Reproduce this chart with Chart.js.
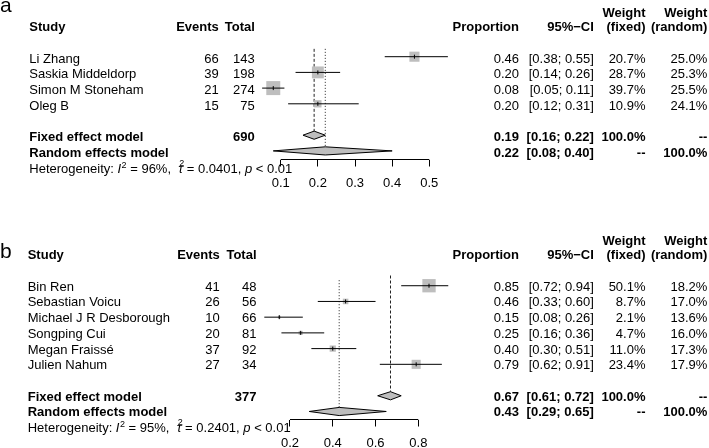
<!DOCTYPE html>
<html><head><meta charset="utf-8">
<script src="https://cdn.jsdelivr.net/npm/chart.js@4.4.1/dist/chart.umd.min.js"></script>
<style>
html,body{margin:0;padding:0;background:#fff;width:709px;height:448px;overflow:hidden}
canvas{position:absolute;left:0}
#ca{top:0}
#cb{top:224px}
</style></head><body>
<canvas id="ca" width="709" height="224"></canvas>
<canvas id="cb" width="709" height="224"></canvas>
<script>
// ---------- Panel a data ----------
const studiesA = ['Li Zhang', 'Saskia Middeldorp', 'Simon M Stoneham', 'Oleg B'];
const eventsA = [66, 39, 21, 15];
const totalA = [143, 198, 274, 75];
const propA = [0.46, 0.20, 0.08, 0.20];
const lowerA = [0.38, 0.14, 0.05, 0.12];
const upperA = [0.55, 0.26, 0.11, 0.31];
const weightFixedA = [20.7, 28.7, 39.7, 10.9];
const weightRandomA = [25.0, 25.3, 25.5, 24.1];
const fixedModelA = [0.19, 0.16, 0.22];   // estimate, lower, upper
const randomModelA = [0.22, 0.08, 0.40];
const totalSumA = 690;
const hetA = ['96%', '0.0401', '0.01'];
const ticksA = [0.1, 0.2, 0.3, 0.4, 0.5];
const tickLabelsA = ['0.1', '0.2', '0.3', '0.4', '0.5'];

// ---------- Panel b data ----------
const studiesB = ['Bin Ren', 'Sebastian Voicu', 'Michael J R Desborough', 'Songping Cui', 'Megan Fraissé', 'Julien Nahum'];
const eventsB = [41, 26, 10, 20, 37, 27];
const totalB = [48, 56, 66, 81, 92, 34];
const propB = [0.85, 0.46, 0.15, 0.25, 0.40, 0.79];
const lowerB = [0.72, 0.33, 0.08, 0.16, 0.30, 0.62];
const upperB = [0.94, 0.60, 0.26, 0.36, 0.51, 0.91];
const weightFixedB = [50.1, 8.7, 2.1, 4.7, 11.0, 23.4];
const weightRandomB = [18.2, 17.0, 13.6, 16.0, 17.3, 17.9];
const fixedModelB = [0.67, 0.61, 0.72];
const randomModelB = [0.43, 0.29, 0.65];
const totalSumB = 377;
const hetB = ['95%', '0.2401', '0.01'];
const ticksB = [0.2, 0.4, 0.6, 0.8];
const tickLabelsB = ['0.2', '0.4', '0.6', '0.8'];

const FONT = '"Liberation Sans", Arial, Helvetica, sans-serif';
const f2 = v => v.toFixed(2);
const ci = (lo, hi) => '[' + f2(lo) + '; ' + f2(hi) + ']';
const pct = w => w.toFixed(1) + '%';

function drawTexts(chart, P) {
  const ctx = chart.ctx;
  const ys = chart.scales.y;
  const Y = r => ys.getPixelForValue(r) + P.textDy;
  const c = P.cx;
  ctx.save();
  ctx.fillStyle = '#000';
  ctx.textBaseline = 'alphabetic';
  function t(s, x, y, align, bold, size, italic) {
    ctx.font = (italic ? 'italic ' : '') + (bold ? 'bold ' : '') + (size || 13) + 'px ' + FONT;
    ctx.textAlign = align;
    ctx.fillText(s, x, y);
    return ctx.measureText(s).width;
  }
  t(P.letter, 0, P.letterY, 'left', false, 21);
  const hy = Y(-1);
  t('Study', c.study, hy, 'left', true);
  t('Events', c.events, hy, 'right', true);
  t('Total', c.total, hy, 'right', true);
  t('Proportion', c.prop, hy, 'right', true);
  t('95%\u2212CI', c.ci, hy, 'right', true);
  t('Weight', c.wf, hy - 14.5, 'right', true);
  t('(fixed)', c.wf, hy, 'right', true);
  t('Weight', c.wr, hy - 14.5, 'right', true);
  t('(random)', c.wr, hy, 'right', true);
  const n = P.studies.length;
  for (let i = 0; i < n; i++) {
    const y = Y(i + 1);
    t(P.studies[i], c.study, y, 'left');
    t(String(P.events[i]), c.events, y, 'right');
    t(String(P.total[i]), c.total, y, 'right');
    t(f2(P.prop[i]), c.prop, y, 'right');
    t(ci(P.lower[i], P.upper[i]), c.ci, y, 'right');
    t(pct(P.weightFixed[i]), c.wf, y, 'right');
    t(pct(P.weightRandom[i]), c.wr, y, 'right');
  }
  let y = Y(n + 2);
  t('Fixed effect model', c.study, y, 'left', true);
  t(String(P.totalSum), c.total, y, 'right', true);
  t(f2(P.fixed[0]), c.prop, y, 'right', true);
  t(ci(P.fixed[1], P.fixed[2]), c.ci, y, 'right', true);
  t('100.0%', c.wf, y, 'right', true);
  t('--', c.wr, y, 'right', true);
  y = Y(n + 3);
  t('Random effects model', c.study, y, 'left', true);
  t(f2(P.random[0]), c.prop, y, 'right', true);
  t(ci(P.random[1], P.random[2]), c.ci, y, 'right', true);
  t('--', c.wf, y, 'right', true);
  t('100.0%', c.wr, y, 'right', true);
  // heterogeneity line
  let x = c.study;
  const hy2 = P.hetY;
  x += t('Heterogeneity: ', x, hy2, 'left', false, 13);
  x += t('I', x, hy2, 'left', false, 13, true);
  x += t('2', x + 0.5, hy2 - 5.5, 'left', false, 9) + 0.5;
  x += t(' = ' + P.het[0] + ',  ', x, hy2, 'left', false, 13);
  const tw = t('\u03C4', x, hy2, 'left', false, 13, true);
  t('2', x + 1, hy2 - 7, 'left', false, 9);
  x += tw;
  x += t(' = ' + P.het[1] + ', ', x, hy2, 'left', false, 13);
  x += t('p', x, hy2, 'left', false, 13, true);
  t(' < ' + P.het[2], x, hy2, 'left', false, 13);
  ctx.restore();
}

function buildPanel(id, P) {
  const n = P.studies.length;
  const fixedRow = n + 2, randomRow = n + 3;
  const dh = 0.26;
  const ds = [];
  for (let i = 0; i < n; i++) {
    ds.push({ data: [{ x: P.lower[i], y: i + 1 }, { x: P.upper[i], y: i + 1 }],
      borderColor: '#000', borderWidth: 1, pointRadius: 0, clip: false, order: 1 });
  }
  const pts = P.prop.map((v, i) => ({ x: v, y: i + 1 }));
  ds.push({ data: pts, showLine: false, pointStyle: 'rect',
    pointRadius: ctx => P.sq * Math.sqrt(P.weightFixed[ctx.dataIndex]) / (2 * Math.SQRT1_2),
    pointBackgroundColor: '#bebebe', pointBorderWidth: 0, borderWidth: 0, clip: false, order: 2 });
  ds.push({ data: pts, showLine: false, pointStyle: 'line', pointRotation: 90, pointRadius: 2,
    pointBorderColor: '#000', pointBorderWidth: 1, clip: false, order: 0 });
  ds.push({ data: [{ x: P.fixed[0], y: P.refTop[0] }, { x: P.fixed[0], y: fixedRow - dh }],
    borderColor: '#222', borderWidth: 1, borderDash: [3, 2], pointRadius: 0, clip: false, order: 3 });
  ds.push({ data: [{ x: P.random[0], y: P.refTop[1] }, { x: P.random[0], y: randomRow - dh }],
    borderColor: '#222', borderWidth: 1, borderDash: [1, 2], pointRadius: 0, clip: false, order: 3 });
  const diamond = (m, row) => [{ x: m[1], y: row }, { x: m[0], y: row - dh }, { x: m[2], y: row }, { x: m[0], y: row + dh }, { x: m[1], y: row }];
  ds.push({ data: diamond(P.fixed, fixedRow), borderColor: '#000', borderWidth: 1,
    backgroundColor: '#bebebe', fill: 'shape', pointRadius: 0, clip: false, order: 0 });
  ds.push({ data: diamond(P.random, randomRow), borderColor: '#000', borderWidth: 1,
    backgroundColor: '#bebebe', fill: 'shape', pointRadius: 0, clip: false, order: 0 });
  // axis line spanning first to last tick
  ds.push({ data: [{ x: P.ticks[0], y: P.yMax }, { x: P.ticks[P.ticks.length - 1], y: P.yMax }],
    borderColor: '#000', borderWidth: 1, pointRadius: 0, clip: false, order: 0 });

  return new Chart(document.getElementById(id), {
    type: 'line',
    data: { datasets: ds },
    options: {
      responsive: false, maintainAspectRatio: false, devicePixelRatio: 1, animation: false, events: [],
      layout: { padding: { left: P.padL, right: P.padR, top: P.padT, bottom: 0 } },
      plugins: { legend: { display: false }, tooltip: { enabled: false } },
      scales: {
        x: {
          type: 'linear', min: P.xMin, max: P.xMax,
          afterBuildTicks: s => { s.ticks = P.ticks.map(v => ({ value: v })); },
          afterFit: s => { s.height = P.axisH; },
          grid: { display: true, drawOnChartArea: false, drawTicks: true, tickLength: 7, color: '#000', lineWidth: 1 },
          border: { display: false },
          ticks: { color: '#000', padding: 9, maxRotation: 0, autoSkip: false,
            font: { size: 13, family: FONT },
            callback: (v, i) => P.tickLabels[i] }
        },
        y: { type: 'linear', reverse: true, min: 0, max: P.yMax, display: false }
      }
    },
    plugins: [{ id: 'tbl' + id, afterDraw: chart => drawTexts(chart, P) }]
  });
}

buildPanel('ca', {
  letter: 'a', letterY: 12,
  studies: studiesA, events: eventsA, total: totalA, prop: propA, lower: lowerA, upper: upperA,
  weightFixed: weightFixedA, weightRandom: weightRandomA, fixed: fixedModelA, random: randomModelA,
  totalSum: totalSumA, het: hetA, ticks: ticksA, tickLabels: tickLabelsA,
  xMin: 0, xMax: 0.6,
  sq: 2.22, refTop: [0.5, 0.5], textDy: 6,
  padL: 243.55, padR: 242.55, padT: 41, yMax: 7.548, axisH: 64.5, hetY: 173.3,
  cx: { study: 29.3, events: 218.8, total: 254.8, prop: 519, ci: 593.8, wf: 645.5, wr: 707.3 }
});
buildPanel('cb', {
  letter: 'b', letterY: 34,
  studies: studiesB, events: eventsB, total: totalB, prop: propB, lower: lowerB, upper: upperB,
  weightFixed: weightFixedB, weightRandom: weightRandomB, fixed: fixedModelB, random: randomModelB,
  totalSum: totalSumB, het: hetB, ticks: ticksB, tickLabels: tickLabelsB,
  xMin: 0, xMax: 1.0,
  sq: 1.88, refTop: [0.35, 0.65], textDy: 5,
  padL: 247.2, padR: 247.9, padT: 46, yMax: 9.51, axisH: 28.5, hetY: 208,
  cx: { study: 27.7, events: 219.8, total: 256.5, prop: 519, ci: 593.8, wf: 645.5, wr: 707.3 }
});
</script>
</body></html>
